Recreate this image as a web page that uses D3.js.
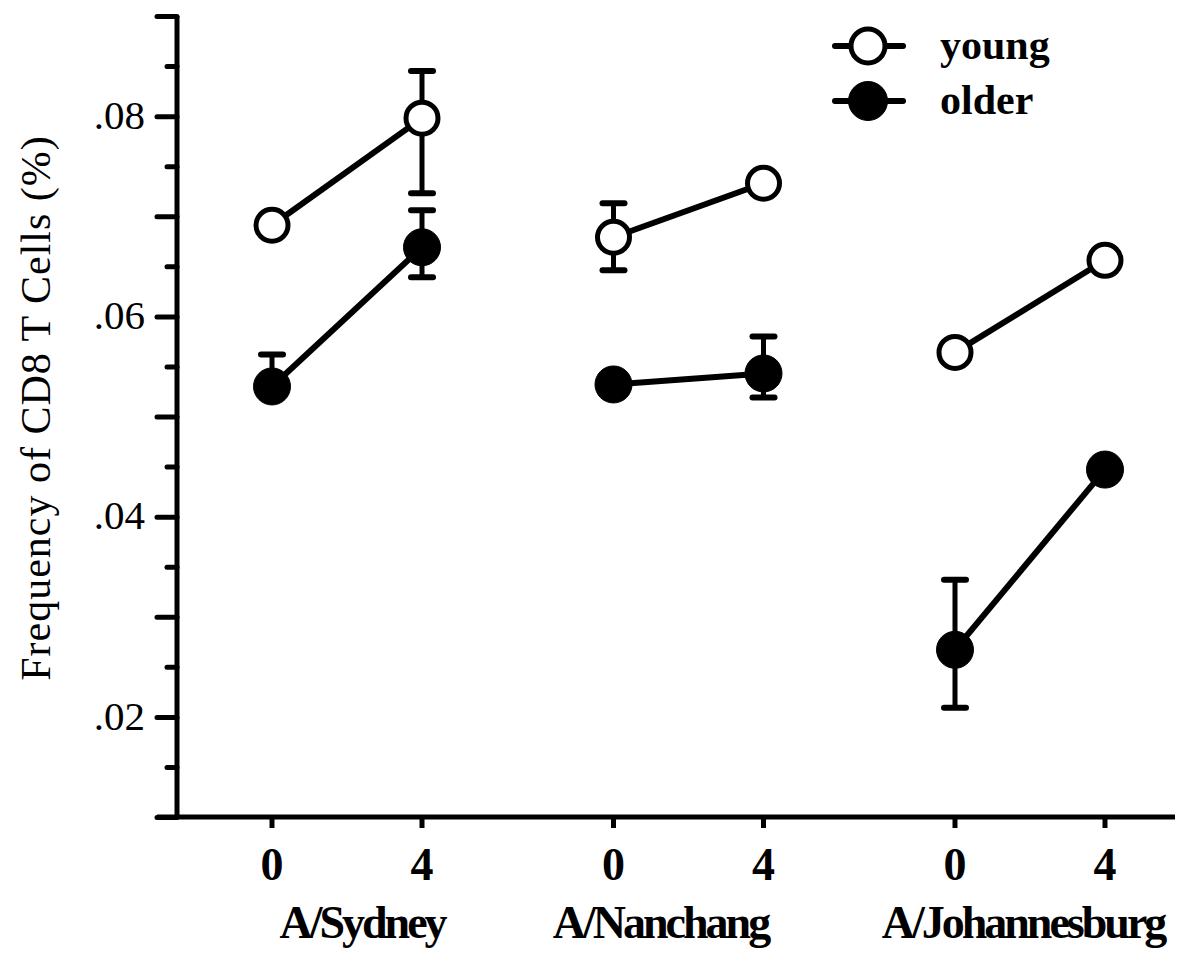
<!DOCTYPE html>
<html>
<head>
<meta charset="utf-8">
<script src="https://cdn.jsdelivr.net/npm/d3@7"></script>
<style>
  body { margin: 0; background: #fff; }
  svg text { font-family: "Liberation Serif", "Times New Roman", serif; fill: #000; }
</style>
</head>
<body>
<svg id="chart" width="1191" height="953"></svg>
<script>
// data
var groups = ["A/Sydney", "A/Nanchang", "A/Johannesburg"],
    days = [0, 4];

// one value per group per day: [day0, day4]
var youngVals = [[0.0691, 0.0798], [0.0679, 0.0733], [0.0564, 0.0656]],
    olderVals = [[0.0530, 0.0669], [0.0532, 0.0543], [0.0267, 0.0447]];

// error bar ends [low, high], null where no bar shows
var youngErr = [[null, [0.0723, 0.0845]], [[0.0646, 0.0713], null], [null, null]],
    olderErr = [[[null, 0.0562], [0.0639, 0.0706]], [null, [0.0519, 0.0580]], [[0.0209, 0.0337], null]];

var yMajor = [0.01, 0.02, 0.03, 0.04, 0.05, 0.06, 0.07, 0.08, 0.09],
    yMinor = [0.015, 0.025, 0.035, 0.045, 0.055, 0.065, 0.075, 0.085],
    yLabeled = [0.02, 0.04, 0.06, 0.08];

// group names are not centred under their ticks in the original
var labelShift = [15, -28, -7];

var svg = d3.select("#chart");

var y = d3.scaleLinear().domain([0.01, 0.09]).range([817, 16]);
var xGroup = d3.scalePoint().domain(groups).range([347, 1030]);
var xDay = d3.scaleLinear().domain([0, 4]).range([-75, 75]);
function xPos(g, d) { return xGroup(g) + xDay(d); }

var axisX = 177;

// y axis, major ticks with labels
var yAxis = d3.axisLeft(y)
  .tickValues(yMajor)
  .tickSize(20)
  .tickPadding(12)
  .tickFormat(d => yLabeled.some(v => Math.abs(v - d) < 1e-9) ? d3.format(".2f")(d).replace(/^0/, "") : "");

var gy = svg.append("g").attr("transform", `translate(${axisX},0)`).call(yAxis);
gy.select(".domain").attr("stroke-width", 5).attr("d", `M0,${y(0.09)}V${y(0.01)}`);
gy.selectAll(".tick line").attr("stroke-width", 5).attr("stroke-linecap", "round");
gy.selectAll(".tick text")
  .style("font-size", "41px")
  .attr("dy", "0.3em");

// minor ticks
var gyMinor = svg.append("g").attr("transform", `translate(${axisX},0)`)
  .call(d3.axisLeft(y).tickValues(yMinor).tickSize(10).tickFormat(""));
gyMinor.select(".domain").remove();
gyMinor.selectAll(".tick line").attr("stroke-width", 5).attr("stroke-linecap", "round");

// x axis line
svg.append("line")
  .attr("x1", 157).attr("x2", 1175)
  .attr("y1", y(0.01)).attr("y2", y(0.01))
  .attr("stroke", "#000").attr("stroke-width", 5);

var xTicks = [];
groups.forEach(g => days.forEach(d => xTicks.push({ g: g, d: d })));

svg.append("g").selectAll("line")
  .data(xTicks)
  .join("line")
  .attr("x1", t => xPos(t.g, t.d)).attr("x2", t => xPos(t.g, t.d))
  .attr("y1", y(0.01)).attr("y2", y(0.01) + 11)
  .attr("stroke", "#000").attr("stroke-width", 5);

svg.append("g").selectAll("text")
  .data(xTicks)
  .join("text")
  .attr("x", t => xPos(t.g, t.d))
  .attr("y", 880)
  .attr("text-anchor", "middle")
  .style("font-size", "46px")
  .style("font-weight", "bold")
  .text(t => t.d);

svg.append("g").selectAll("text")
  .data(groups)
  .join("text")
  .attr("x", (g, i) => xGroup(g) + labelShift[i])
  .attr("y", 938)
  .attr("text-anchor", "middle")
  .style("font-size", "46px")
  .style("font-weight", "bold")
  .style("letter-spacing", "-3px")
  .text(g => g);

// y title
svg.append("text")
  .attr("transform", "translate(50,408) rotate(-90)")
  .attr("text-anchor", "middle")
  .style("font-size", "42px")
  .style("letter-spacing", "1px")
  .text("Frequency of CD8 T Cells (%)");

// series
var series = [
  { name: "young", vals: youngVals, err: youngErr, fill: "#fff" },
  { name: "older", vals: olderVals, err: olderErr, fill: "#000" }
];

var plot = svg.append("g");

series.forEach(s => {
  groups.forEach((g, gi) => {
    var pts = days.map((d, di) => ({ x: xPos(g, d), v: s.vals[gi][di], e: s.err[gi][di] }));

    // error bars
    pts.forEach(p => {
      if (!p.e) return;
      var lo = p.e[0] == null ? p.v : p.e[0];
      var hi = p.e[1] == null ? p.v : p.e[1];
      plot.append("line")
        .attr("x1", p.x).attr("x2", p.x)
        .attr("y1", y(lo)).attr("y2", y(hi))
        .attr("stroke", "#000").attr("stroke-width", 5);
      [p.e[0], p.e[1]].forEach(c => {
        if (c == null) return;
        plot.append("line")
          .attr("x1", p.x - 11).attr("x2", p.x + 11)
          .attr("y1", y(c)).attr("y2", y(c))
          .attr("stroke", "#000").attr("stroke-width", 6)
          .attr("stroke-linecap", "round");
      });
    });

    plot.append("path")
      .datum(pts)
      .attr("d", d3.line().x(p => p.x).y(p => y(p.v)))
      .attr("fill", "none")
      .attr("stroke", "#000")
      .attr("stroke-width", 6);

    plot.selectAll(null)
      .data(pts)
      .join("circle")
      .attr("cx", p => p.x)
      .attr("cy", p => y(p.v))
      .attr("r", s.name == "young" ? 16 : 18.5)
      .attr("fill", s.fill)
      .attr("stroke", "#000")
      .attr("stroke-width", s.name == "young" ? 5 : 1);
  });
});

// legend
var legend = svg.append("g").attr("transform", "translate(835,0)");
var legY = [46, 101];
series.forEach((s, i) => {
  var row = legend.append("g").attr("transform", `translate(0,${legY[i]})`);
  row.append("line").attr("x1", 0).attr("x2", 68).attr("y1", 0).attr("y2", 0)
    .attr("stroke", "#000").attr("stroke-width", 6).attr("stroke-linecap", "round");
  row.append("circle").attr("cx", 33).attr("cy", 0)
    .attr("r", s.name == "young" ? 17 : 19.5)
    .attr("fill", s.fill).attr("stroke", "#000")
    .attr("stroke-width", s.name == "young" ? 5 : 1);
  row.append("text").attr("x", 105).attr("y", 0).attr("dy", "0.3em")
    .style("font-size", "42px").style("font-weight", "bold")
    .text(s.name);
});
</script>
</body>
</html>
